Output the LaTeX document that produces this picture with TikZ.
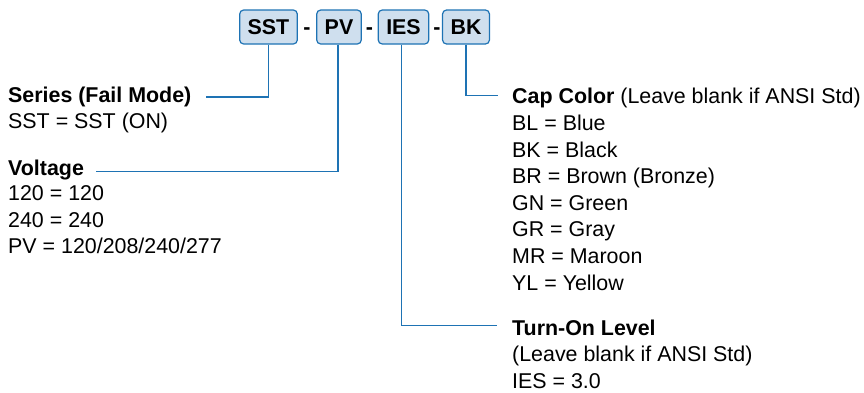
\documentclass[tikz,border=0pt]{standalone}
\usepackage{fontspec}
\setmainfont{Liberation Sans}
\definecolor{lineblue}{RGB}{30,115,180}
\definecolor{boxfill}{RGB}{207,223,238}
\begin{document}
\begin{tikzpicture}[x=1pt,y=-1pt,
  codebox/.style={draw=lineblue, fill=boxfill, line width=1.2pt, rounded corners=4pt,
    minimum height=34pt, inner xsep=8pt, inner ysep=0pt, font=\fontsize{21.4}{25}\selectfont\bfseries},
  sep/.style={font=\fontsize{21.4}{25}\selectfont\bfseries, inner sep=0pt, anchor=base},
  txt/.style={font=\fontsize{21.4}{25}\selectfont, inner sep=0pt, anchor=base west},
  hd/.style={font=\fontsize{21.4}{25}\selectfont\bfseries, inner sep=0pt, anchor=base west},
  conn/.style={draw=lineblue, line width=1.3pt}]
\useasboundingbox (0,0) rectangle (864,392);
% code boxes
\node[codebox] (sst) at (268.5,27) {SST};
\node[sep] (d1) at (307,34.3) {-};
\node[codebox] (pv) at (339,27) {PV};
\node[sep] (d2) at (369.5,34.3) {-};
\node[codebox] (ies) at (403.5,27) {IES};
\node[sep] (d3) at (437,34.3) {-};
\node[codebox] (bk) at (466,27) {BK};
% series
\node[hd] (serh) at (8,102.5) {Series (Fail Mode)};
\node[txt] (ser1) at (8,128.8) {SST = SST (ON)};
% voltage
\node[hd] (volh) at (8,175) {Voltage};
\node[txt] (vol1) at (8,200.7) {120 = 120};
\node[txt] (vol2) at (8,227.2) {240 = 240};
\node[txt] (vol3) at (8,253.6) {PV = 120/208/240/277};
% cap color
\node[hd] (caph) at (512,103.7) {Cap Color \normalfont(Leave blank if ANSI Std)};
\node[txt] (cap1) at (512,130.3) {BL = Blue};
\node[txt] (cap2) at (512,157) {BK = Black};
\node[txt] (cap3) at (512,183.6) {BR = Brown (Bronze)};
\node[txt] (cap4) at (512,210.3) {GN = Green};
\node[txt] (cap5) at (512,236.9) {GR = Gray};
\node[txt] (cap6) at (512,263.5) {MR = Maroon};
\node[txt] (cap7) at (512,290.2) {YL = Yellow};
% turn-on
\node[hd] (tonh) at (512,335.2) {Turn-On Level};
\node[txt] (ton1) at (512,361.8) {(Leave blank if ANSI Std)};
\node[txt] (ton2) at (512,388.4) {IES = 3.0};
% connector ends
\coordinate (serend) at (206,97);
\coordinate (volend) at (96,171.5);
\coordinate (capend) at (497.5,95.5);
\coordinate (tonend) at (496.5,325.8);
\draw[conn] (sst.south) |- (serend);
\draw[conn] ([xshift=-1pt]pv.south) |- (volend);
\draw[conn] ([xshift=-2pt]ies.south) |- (tonend);
\draw[conn] (bk.south) |- (capend);
\end{tikzpicture}
\end{document}
